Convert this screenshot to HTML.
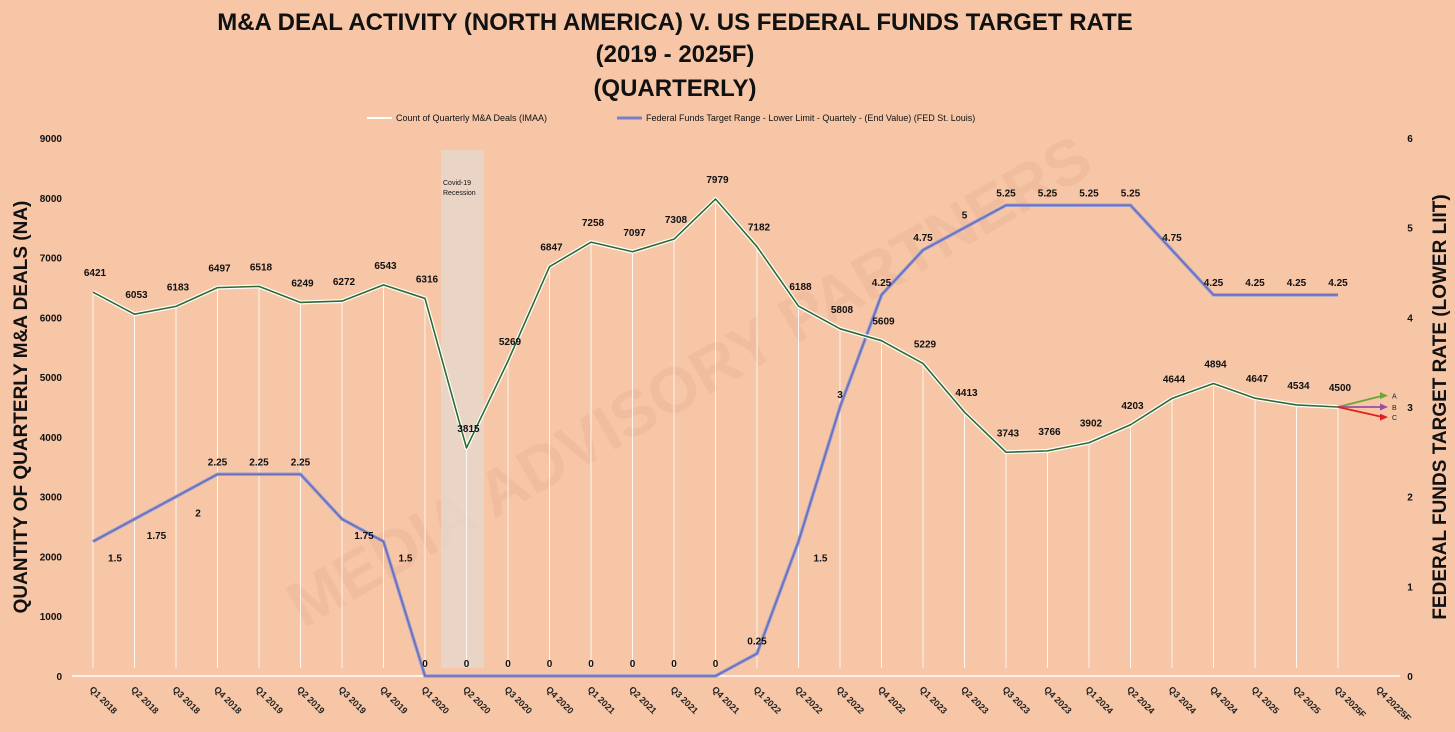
<!DOCTYPE html>
<html><head><meta charset="utf-8"><style>
html,body{margin:0;padding:0;background:#f6c6a7;}
svg{display:block;font-family:"Liberation Sans",sans-serif;}
</style></head><body>
<svg id="chart" width="1455" height="732" viewBox="0 0 1455 732">
<rect width="1455" height="732" fill="#f6c6a7"/>
<g font-weight="bold" font-size="24" text-anchor="middle" fill="#111">
<text x="675" y="30">M&amp;A DEAL ACTIVITY (NORTH AMERICA) V. US FEDERAL FUNDS TARGET RATE</text>
<text x="675" y="62">(2019 - 2025F)</text>
<text x="675" y="96">(QUARTERLY)</text>
</g>
<g font-size="9" fill="#111">
<line x1="367" y1="118" x2="392" y2="118" stroke="#fff" stroke-width="2"/>
<text x="396" y="121">Count of Quarterly M&amp;A Deals (IMAA)</text>
<line x1="617" y1="118" x2="642" y2="118" stroke="#7a80c8" stroke-width="3"/>
<text x="646" y="121">Federal Funds Target Range - Lower Limit - Quartely - (End Value) (FED St. Louis)</text>
</g>
<text x="700" y="400" font-size="64" font-weight="bold" fill="#e8b395" opacity="0.4" text-anchor="middle" transform="rotate(-30 700 400)">MEDIA ADVISORY PARTNERS</text>
<rect x="441" y="150" width="43" height="518" fill="#e6d8d0" opacity="0.75"/>
<text x="443" y="185" font-size="7" fill="#111"><tspan x="443">Covid-19</tspan><tspan x="443" dy="10">Recession</tspan></text>
<text transform="translate(27 407) rotate(-90)" text-anchor="middle" font-size="19" font-weight="bold" fill="#111">QUANTITY OF QUARTERLY M&amp;A DEALS (NA)</text>
<text transform="translate(1446 407) rotate(-90)" text-anchor="middle" font-size="19" font-weight="bold" fill="#111">FEDERAL FUNDS TARGET RATE (LOWER LIIT)</text>
<g id="plot"></g>
</svg>
<script>
const categories=["Q1 2018","Q2 2018","Q3 2018","Q4 2018","Q1 2019","Q2 2019","Q3 2019","Q4 2019","Q1 2020","Q2 2020","Q3 2020","Q4 2020","Q1 2021","Q2 2021","Q3 2021","Q4 2021","Q1 2022","Q2 2022","Q3 2022","Q4 2022","Q1 2023","Q2 2023","Q3 2023","Q4 2023","Q1 2024","Q2 2024","Q3 2024","Q4 2024","Q1 2025","Q2 2025","Q3 2025F","Q4 20225F"];
const deals=[6421,6053,6183,6497,6518,6249,6272,6543,6316,3815,5269,6847,7258,7097,7308,7979,7182,6188,5808,5609,5229,4413,3743,3766,3902,4203,4644,4894,4647,4534,4500];
const rates=[1.5,1.75,2,2.25,2.25,2.25,1.75,1.5,0,0,0,0,0,0,0,0,0.25,1.5,3,4.25,4.75,5,5.25,5.25,5.25,5.25,4.75,4.25,4.25,4.25,4.25];
const leftTicks=[0,1000,2000,3000,4000,5000,6000,7000,8000,9000];
const rightTicks=[0,1,2,3,4,5,6];
const scenarios=["A","B","C"];
const scenarioValues=[4690,4500,4330];
const scenarioColors=["#6aa832","#9a4fa0","#e02020"];
const NS="http://www.w3.org/2000/svg";
const plot=document.getElementById('plot');
const x0=93,dx=41.5,yb=676,yt=138;
const X=i=>x0+i*dx;
const YL=v=>yb-(v/9000)*(yb-yt);
const YR=v=>yb-(v/6)*(yb-yt);
function mk(t,a,txt){const e=document.createElementNS(NS,t);for(const k in a)e.setAttribute(k,a[k]);if(txt!==undefined)e.textContent=txt;plot.appendChild(e);return e;}
leftTicks.forEach(v=>{const e=mk('text',{x:62,y:YL(v)+4,'text-anchor':'end','font-size':10,'font-weight':'bold',fill:'#111'},v);

});
rightTicks.forEach(v=>{const e=mk('text',{x:1410,y:YR(v)+4,'text-anchor':'middle','font-size':10,'font-weight':'bold',fill:'#111'},v);

});
const ax=mk('line',{x1:72,y1:yb,x2:1400,y2:yb,stroke:'#fff','stroke-width':1.5});


categories.forEach((c,i)=>{const e=mk('text',{transform:`translate(${X(i)-4} ${yb+14}) rotate(45)`,'font-size':9,'font-weight':'bold',fill:'#222'},c);

});
deals.forEach((v,i)=>{const l=mk('line',{x1:X(i),y1:YL(v),x2:X(i),y2:yb-8,stroke:'#fff','stroke-width':1,opacity:0.85});

});
const rp=rates.map((v,i)=>X(i)+','+YR(v)).join(' ');
const r1=mk('polyline',{points:rp,fill:'none',stroke:'#9a9ed6','stroke-width':3.5,'stroke-linejoin':'round'});


const r2=mk('polyline',{points:rp,fill:'none',stroke:'#6a6fb8','stroke-width':1.6,'stroke-linejoin':'round'});


const dp=deals.map((v,i)=>X(i)+','+YL(v)).join(' ');
const d1=mk('polyline',{points:dp,fill:'none',stroke:'#fff','stroke-width':4,'stroke-linejoin':'round'});


const d2=mk('polyline',{points:dp,fill:'none',stroke:'#2f6a2f','stroke-width':1.6,'stroke-linejoin':'round'});


deals.forEach((v,i)=>{const e=mk('text',{x:X(i)+2,y:YL(v)-16,'text-anchor':'middle','font-size':10,'font-weight':'bold',fill:'#111'},v);

});
rates.forEach((v,i)=>{const below=(i<3||i===6||i===7||i===17)?1:0;
const e=mk('text',{x:X(i)+(below?22:0),y:below?YR(v)+20:YR(v)-9,'text-anchor':'middle','font-size':10,'font-weight':'bold',fill:'#111'},v);

});
const last=deals.length-1;
scenarios.forEach((s,k)=>{const x2=X(last)+50,y2=YL(scenarioValues[k]);
const l=mk('line',{x1:X(last),y1:YL(deals[last]),x2:x2-5,y2:y2,stroke:scenarioColors[k],'stroke-width':1.8});


const h=mk('polygon',{points:`${x2},${y2} ${x2-8},${y2-3.5} ${x2-8},${y2+3.5}`,fill:scenarioColors[k]});


const t=mk('text',{x:x2+4,y:y2+3,'font-size':7,fill:'#222'},s);

});
</script>
</body></html>
